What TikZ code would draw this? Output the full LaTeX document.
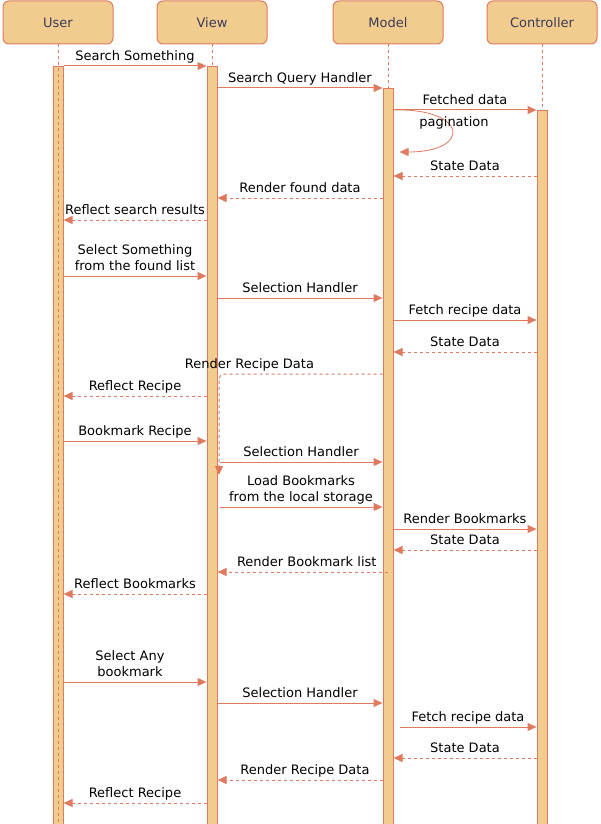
\documentclass[tikz,border=0pt]{standalone}
\usepackage{fontspec}
\setmainfont{DejaVu Sans}
\usepackage{xcolor}
\usetikzlibrary{arrows.meta}
\definecolor{barfill}{HTML}{F2CC8F}
\definecolor{barline}{HTML}{E07A5F}
\definecolor{headtext}{HTML}{393C56}
\tikzset{
  actor/.style={draw=barline, fill=barfill, line width=1pt, rounded corners=6pt, minimum width=110pt,
    minimum height=43pt, text=headtext, font=\fontsize{13}{16}\selectfont},
  bar/.style={draw=barline, fill=barfill, line width=1pt, minimum width=10pt, minimum height=780pt,
    anchor=north, inner sep=0pt},
  life/.style={draw=barline, line width=0.8pt, dash pattern=on 3pt off 3pt},
  call/.style={draw=barline, line width=1pt, -{Triangle[length=9pt,width=8pt]}},
  reply/.style={call, dash pattern=on 3pt off 3pt},
  lbl/.style={font=\fontsize{13}{16.5}\selectfont, align=center, inner sep=0pt,
    anchor=south, text depth=3pt, yshift=2pt}
}

\begin{document}
\begin{tikzpicture}[x=1pt, y=-1pt]
    \useasboundingbox (0,0) rectangle (601,824);
    \node[actor] (user) at (58,22.5) {User};
    \node[actor] (view) at (212,22.5) {View};
    \node[actor] (model) at (388,22.5) {Model};
    \node[actor] (ctrl) at (542,22.5) {Controller};
    \node[bar] (ubar) at (58,66) {};
    \node[bar] (vbar) at (212,66) {};
    \node[bar] (mbar) at (388,88) {};
    \node[bar] (cbar) at (542,110) {};
    \draw[life] (user.south) -- (user.south |- 0,830);
    \draw[life] (view.south) -- (vbar.north);
    \draw[life] (model.south) -- (mbar.north);
    \draw[life] (ctrl.south) -- (cbar.north);

    \draw[call] (ubar.east |- 0,66) -- (vbar.west |- 0,66) node[lbl, midway] {Search Something};
    \draw[call] (vbar.east |- 0,88) -- (mbar.west |- 0,88) node[lbl, midway] {Search Query Handler};
    \draw[call] (mbar.east |- 0,110) -- (cbar.west |- 0,110) node[lbl, midway] {Fetched data};
    \draw[call, line width=0.8pt] (mbar.east |- 0,110) .. controls (468,108) and (472,152) .. ([xshift=6pt]mbar.east |- 0,152);
    \node[font=\fontsize{13}{16}\selectfont, anchor=base] (pag) at (454,126.5) {pagination};
    \draw[reply] (cbar.west |- 0,176) -- (mbar.east |- 0,176) node[lbl, midway] {State Data};
    \draw[reply] (mbar.west |- 0,198) -- (vbar.east |- 0,198) node[lbl, midway] {Render found data};
    \draw[reply] (vbar.west |- 0,220) -- (ubar.east |- 0,220) node[lbl, midway] {Reflect search results};

    \draw[call] (ubar.east |- 0,276) -- (vbar.west |- 0,276) node[lbl, midway] {Select Something\\from the found list};
    \draw[call] (vbar.east |- 0,298) -- (mbar.west |- 0,298) node[lbl, midway] {Selection Handler};
    \draw[call] (mbar.east |- 0,320) -- (cbar.west |- 0,320) node[lbl, midway] {Fetch recipe data};
    \draw[reply] (cbar.west |- 0,352) -- (mbar.east |- 0,352) node[lbl, midway] {State Data};
    \coordinate (drop) at (219,475);
    \draw[reply, rounded corners=5pt] (mbar.west |- 0,374) -| (drop);
    \node[lbl] (rrd) at (249.5,374) {Render Recipe Data};
    \draw[reply] (vbar.west |- 0,396) -- (ubar.east |- 0,396) node[lbl, midway] {Reflect Recipe};

    \draw[call] (ubar.east |- 0,441) -- (vbar.west |- 0,441) node[lbl, midway] {Bookmark Recipe};
    \draw[call] ([xshift=2pt]vbar.east |- 0,462) -- (mbar.west |- 0,462) node[lbl, midway] {Selection Handler};
    \draw[call] ([xshift=2pt]vbar.east |- 0,507) -- (mbar.west |- 0,507) node[lbl, midway] {Load Bookmarks\\from the local storage};
    \draw[call] (mbar.east |- 0,529) -- (cbar.west |- 0,529) node[lbl, midway] {Render Bookmarks};
    \draw[reply] (cbar.west |- 0,550) -- (mbar.east |- 0,550) node[lbl, midway] {State Data};
    \draw[reply] (mbar.center |- 0,572) -- (vbar.east |- 0,572) node[lbl, midway, xshift=4pt] {Render Bookmark list};
    \draw[reply] (vbar.west |- 0,594) -- (ubar.east |- 0,594) node[lbl, midway] {Reflect Bookmarks};

    \draw[call] (ubar.east |- 0,682) -- (vbar.west |- 0,682) node[lbl, midway, xshift=-5pt] {Select Any\\bookmark};
    \draw[call] (vbar.east |- 0,703) -- (mbar.west |- 0,703) node[lbl, midway] {Selection Handler};
    \draw[call] ([xshift=6pt]mbar.east |- 0,727) -- (cbar.west |- 0,727) node[lbl, midway] {Fetch recipe data};
    \draw[reply] (cbar.west |- 0,758) -- (mbar.east |- 0,758) node[lbl, midway] {State Data};
    \draw[reply] (mbar.west |- 0,780) -- (vbar.east |- 0,780) node[lbl, midway, xshift=5pt] {Render Recipe Data};
    \draw[reply] (vbar.west |- 0,803) -- (ubar.east |- 0,803) node[lbl, midway] {Reflect Recipe};
\end{tikzpicture}
\end{document}
